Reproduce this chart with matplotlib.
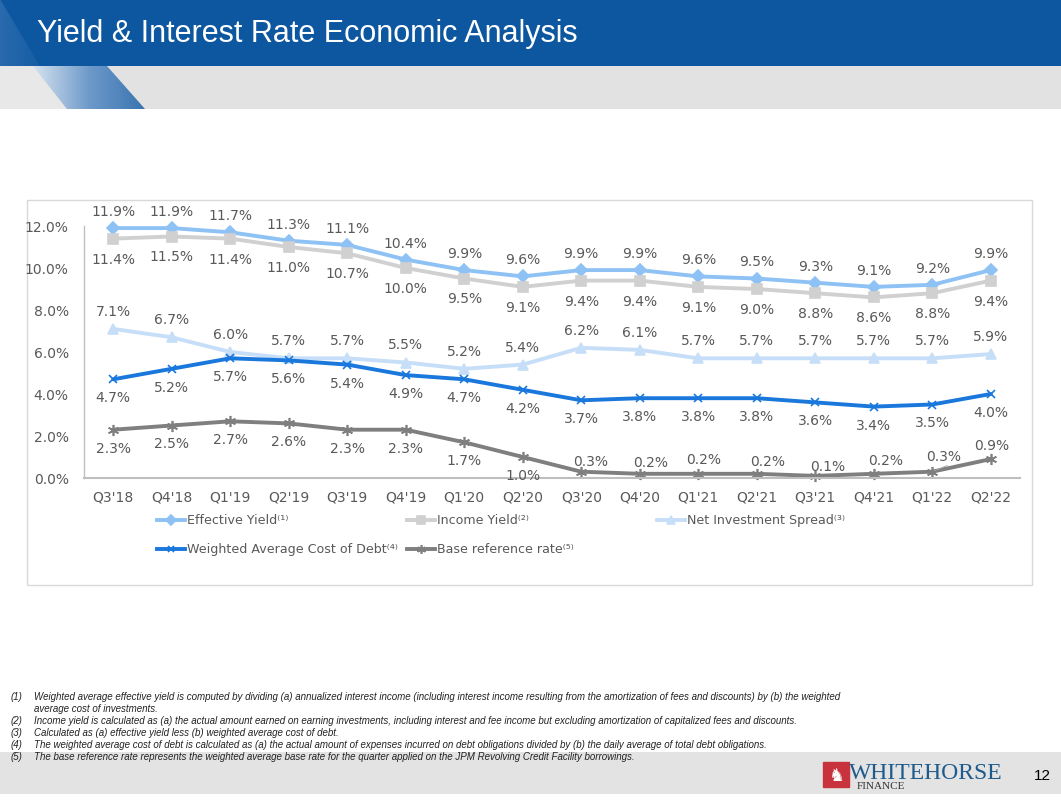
import matplotlib
matplotlib.use("Agg")
import matplotlib.pyplot as plt
from matplotlib.patches import Rectangle, Polygon
from matplotlib.lines import Line2D
import numpy as np

W, H = 1061, 812

quarters = ["Q3'18", "Q4'18", "Q1'19", "Q2'19", "Q3'19", "Q4'19", "Q1'20", "Q2'20",
            "Q3'20", "Q4'20", "Q1'21", "Q2'21", "Q3'21", "Q4'21", "Q1'22", "Q2'22"]
effective_yield = [11.9, 11.9, 11.7, 11.3, 11.1, 10.4, 9.9, 9.6, 9.9, 9.9, 9.6, 9.5, 9.3, 9.1, 9.2, 9.9]
income_yield = [11.4, 11.5, 11.4, 11.0, 10.7, 10.0, 9.5, 9.1, 9.4, 9.4, 9.1, 9.0, 8.8, 8.6, 8.8, 9.4]
net_inv_spread = [7.1, 6.7, 6.0, 5.7, 5.7, 5.5, 5.2, 5.4, 6.2, 6.1, 5.7, 5.7, 5.7, 5.7, 5.7, 5.9]
wacd = [4.7, 5.2, 5.7, 5.6, 5.4, 4.9, 4.7, 4.2, 3.7, 3.8, 3.8, 3.8, 3.6, 3.4, 3.5, 4.0]
base_rate = [2.3, 2.5, 2.7, 2.6, 2.3, 2.3, 1.7, 1.0, 0.3, 0.2, 0.2, 0.2, 0.1, 0.2, 0.3, 0.9]
yticks = [0, 2, 4, 6, 8, 10, 12]

series_names = ["Effective Yield\u207d\u00b9\u207e", "Income Yield\u207d\u00b2\u207e",
                "Net Investment Spread\u207d\u00b3\u207e",
                "Weighted Average Cost of Debt\u207d\u2074\u207e", "Base reference rate\u207d\u2075\u207e"]

footnotes = [
    ("(1)", "Weighted average effective yield is computed by dividing (a) annualized interest income (including interest income resulting from the amortization of fees and discounts) by (b) the weighted"),
    ("", "average cost of investments."),
    ("(2)", "Income yield is calculated as (a) the actual amount earned on earning investments, including interest and fee income but excluding amortization of capitalized fees and discounts."),
    ("(3)", "Calculated as (a) effective yield less (b) weighted average cost of debt."),
    ("(4)", "The weighted average cost of debt is calculated as (a) the actual amount of expenses incurred on debt obligations divided by (b) the daily average of total debt obligations."),
    ("(5)", "The base reference rate represents the weighted average base rate for the quarter applied on the JPM Revolving Credit Facility borrowings."),
]

fig = plt.figure(figsize=(W / 100, H / 100), dpi=100)
fig.patch.set_facecolor("white")

# background overlay axes in pixel coords (y down)
bg = fig.add_axes([0, 0, 1, 1])
bg.set_xlim(0, W)
bg.set_ylim(H, 0)
bg.axis("off")
bg.set_zorder(0)

# header
bg.add_patch(Rectangle((0, 0), W, 67, color="#0C57A0", zorder=1, lw=0))
grad_top = np.linspace(0, 1, 200).reshape(1, -1)
gt = bg.imshow(grad_top, extent=(0, 60, 67, 0), cmap=matplotlib.colors.LinearSegmentedColormap.from_list(
    "g1", ["#2A6AAD", "#0C57A0"]), aspect="auto", zorder=1.5)
gt.set_clip_path(Polygon([(0, 0), (0, 67), (40, 67)], closed=True, transform=bg.transData))
bg.add_patch(Rectangle((0, 67), W, 43, color="#E2E2E2", zorder=1, lw=0))
bg.add_patch(Polygon([(0, 67), (33, 67), (67, 110), (0, 110)], closed=True, color="#E8E8E8", zorder=1.2, lw=0))
grad = np.linspace(0, 1, 200).reshape(1, -1)
im = bg.imshow(grad, extent=(33, 145, 110, 67), cmap=matplotlib.colors.LinearSegmentedColormap.from_list(
    "g2", ["#D6E2EF", "#6E9ACA", "#3A74B0"]), aspect="auto", zorder=1.5)
im.set_clip_path(Polygon([(33, 67), (107, 67), (145, 110), (67, 110)], closed=True, transform=bg.transData))
bg.set_xlim(0, W)
bg.set_ylim(H, 0)
bg.text(37, 42, "Yield & Interest Rate Economic Analysis", color="white",
        fontsize=22, family="Liberation Sans", va="baseline", ha="left", zorder=3)

# chart border
bg.add_patch(Rectangle((27, 201), 1032 - 27, 586 - 201, fill=False, ec="#D9D9D9", lw=1, zorder=1))

# bottom band
bg.add_patch(Rectangle((0, 753), W, 42, color="#E3E3E3", zorder=1, lw=0))
bg.add_patch(Rectangle((823, 763), 26, 25, color="#C8323C", zorder=2))
bg.text(836, 776, "\u265e", color="white", fontsize=13, ha="center", va="center",
        family="DejaVu Sans", zorder=3)
bg.text(849, 779, "WHITEHORSE", color="#1E5A8C", fontsize=17, family="Liberation Serif",
        ha="left", va="baseline", zorder=3)
bg.text(857, 789, "FINANCE", color="#333333", fontsize=8, family="Liberation Serif",
        ha="left", va="baseline", zorder=3)
bg.text(1042, 776, "12", color="black", fontsize=11, family="Liberation Sans",
        ha="center", va="center", zorder=3)

# footnotes
fy = [697, 709, 721, 733, 745, 757]
for (num, txt), y in zip(footnotes, fy):
    if num:
        bg.text(11, y, num, fontsize=7, style="italic", family="Liberation Sans",
                color="#222222", va="center", ha="left", zorder=3)
    bg.text(34, y, txt, fontsize=7, style="italic", family="Liberation Sans",
            color="#222222", va="center", ha="left", zorder=3)

# main chart axes
x0, x1, ytop, ybot = 84, 1020, 227, 479
ax = fig.add_axes([x0 / W, 1 - ybot / H, (x1 - x0) / W, (ybot - ytop) / H])
ax.set_zorder(2)
ax.patch.set_alpha(0)
ax.set_xlim(-0.5, len(quarters) - 0.5)
ax.set_ylim(0, 12)
x = np.arange(len(quarters))

txtc = "#595959"
lab_font = dict(fontsize=10, color=txtc, family="DejaVu Sans")
leg_font = dict(fontsize=9.1, color=txtc, family="DejaVu Sans")

styles = [
    (effective_yield, "#8EC1F4", "D", 6, "#8EC1F4"),
    (income_yield, "#D0D0D0", "s", 7, "#D0D0D0"),
    (net_inv_spread, "#C6DEF8", "^", 7, "#C6DEF8"),
    (wacd, "#1A78DC", "x", 6, "#1A78DC"),
    (base_rate, "#7F7F7F", (6, 2, 0), 8, "#7F7F7F"),
]
for vals, col, mk, ms, mc in styles:
    ax.plot(x, vals, color=col, lw=2.8, marker=mk, ms=ms, mfc=mc, mec=mc,
            mew=1.2, clip_on=False, solid_capstyle="round")

def label(vals, offsets):
    for i, v in enumerate(vals):
        dx, dy = offsets[i] if isinstance(offsets, list) else offsets
        ax.annotate(f"{v:.1f}%", (x[i], v), xytext=(dx, -dy), textcoords="offset pixels",
                    ha="center", va="center", annotation_clip=False, **lab_font)

label(effective_yield, (0, -17))
label(income_yield, (0, 20))
label(net_inv_spread, (0, -18))
label(wacd, (0, 18))
base_off = [(0, 18)] * 8 + [(9, -11), (11, -12), (5, -15), (11, -13), (12, -10), (12, -14), (11, -16), (1, -14)]
label(base_rate, base_off)
# leader line for Q1'22 base rate
ax.annotate("", xy=(x[14], base_rate[14]), xytext=(x[14] + 0.3, base_rate[14] + 0.35),
            arrowprops=dict(arrowstyle="-", color="#A6A6A6", lw=0.6), annotation_clip=False)

ax.set_xticks(x)
ax.set_xticklabels(quarters)
ax.set_yticks(yticks)
ax.set_yticklabels([f"{v:.1f}%" for v in yticks])
ax.tick_params(length=0, labelsize=10, labelcolor=txtc, pad=8)
ax.tick_params(axis="y", pad=11)
for lab in ax.get_xticklabels() + ax.get_yticklabels():
    lab.set_family("DejaVu Sans")
for s in ["top", "right"]:
    ax.spines[s].set_visible(False)
ax.spines["left"].set_color("#BFBFBF")
ax.spines["bottom"].set_color("#BFBFBF")
ax.spines["bottom"].set_linewidth(1.5)
ax.spines["left"].set_linewidth(1)

# manual legend
leg_pos = [(157, 521), (407, 521), (657, 521), (157, 550), (407, 550)]
for (vals, col, mk, ms, mc), name, (lx, ly) in zip(styles, series_names, leg_pos):
    bg.add_line(Line2D([lx, lx + 28], [ly, ly], color=col, lw=2.8, zorder=3))
    bg.add_line(Line2D([lx + 14], [ly], color=col, marker=mk, ms=ms * 0.8, mfc=mc, mec=mc,
                       mew=1.2, zorder=4))
    bg.text(lx + 30, ly, name, va="center", ha="left", zorder=4, **leg_font)

fig.savefig("out.png", dpi=100)
